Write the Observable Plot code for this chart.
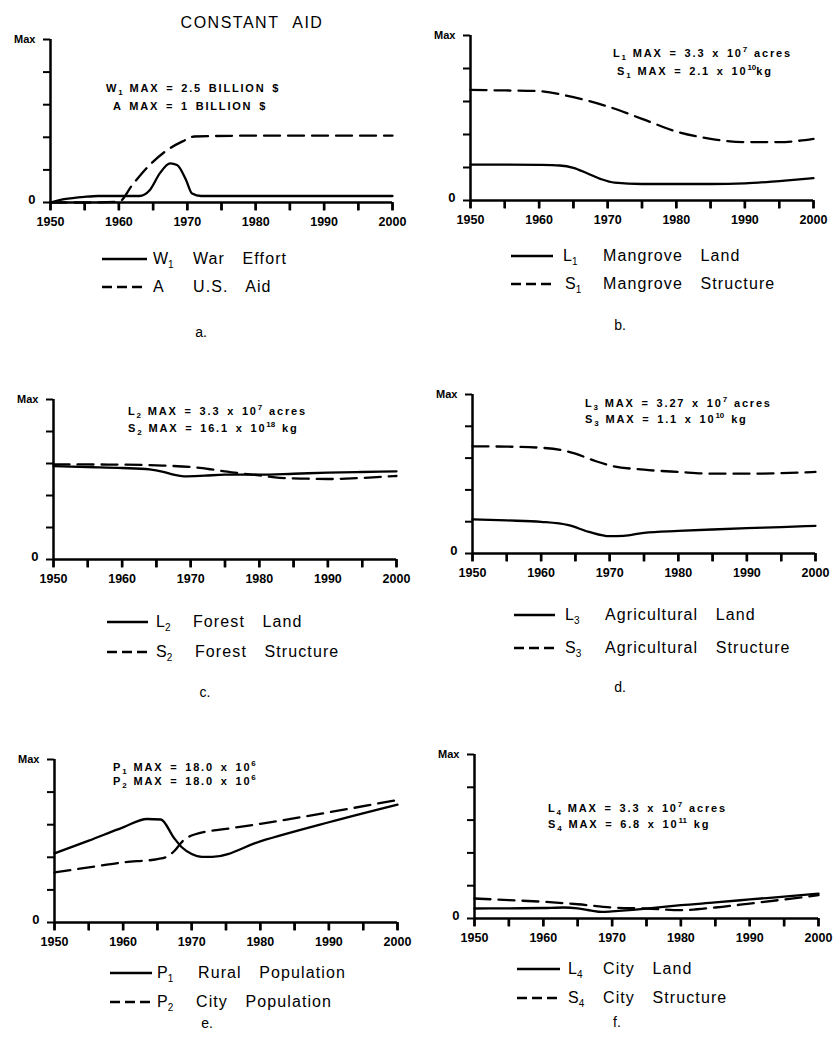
<!DOCTYPE html>
<html>
<head>
<meta charset="utf-8">
<script src="https://cdn.jsdelivr.net/npm/d3@7"></script>
<script src="https://cdn.jsdelivr.net/npm/@observablehq/plot@0.6"></script>
<style>
  html, body { margin: 0; padding: 0; background: #fff; }
  #page { position: relative; width: 836px; height: 1037px; overflow: hidden; font-family: "Liberation Sans", Arial, sans-serif; color: #000; }
  .abs { position: absolute; white-space: nowrap; transform: translateY(-50%); }
  .title { font-size: 16px; letter-spacing: 1.5px; word-spacing: 8px; transform: translate(-50%, -50%); }
  .note { font-size: 11px; font-weight: bold; letter-spacing: 1.8px; word-spacing: 2px; line-height: 1; }
  .note sub { font-size: 8px; vertical-align: -3px; line-height: 0; letter-spacing: 0; }
  .note sup { font-size: 8px; vertical-align: 5px; line-height: 0; letter-spacing: 0; }
  .sym { font-size: 16px; line-height: 1; }
  .sym sub { font-size: 10px; vertical-align: -4px; line-height: 0; }
  .desc { font-size: 16px; letter-spacing: 1.1px; word-spacing: 12px; line-height: 1; }
  .plabel { font-size: 14px; transform: translate(-50%, -50%); }
</style>
</head>
<body>
<div id="page"></div>
<script>
// ---------- data (values as fraction of each variable's MAX) ----------
const xTicks = [1950, 1955, 1960, 1965, 1970, 1975, 1980, 1985, 1990, 1995, 2000];
const xTickLabels = ["1950", "", "1960", "", "1970", "", "1980", "", "1990", "", "2000"];
const yTicks = [0, 0.2, 0.4, 0.6, 0.8, 1];
const yTickLabels = ["0", "", "", "", "", "Max"];

// a. War effort / U.S. aid
const w1Years = [1950, 1952, 1955, 1957, 1960, 1963, 1964.5, 1966, 1967.5, 1968.5, 1969.8, 1970.7, 1972, 1980, 1990, 2000];
const w1Vals  = [0, 0.02, 0.035, 0.04, 0.04, 0.04, 0.075, 0.18, 0.24, 0.23, 0.14, 0.055, 0.04, 0.04, 0.04, 0.04];
const aYears  = [1950, 1955, 1960, 1962, 1964.5, 1967, 1969.3, 1971, 1980, 1990, 2000];
const aVals   = [0, 0, 0.005, 0.11, 0.23, 0.32, 0.375, 0.405, 0.41, 0.41, 0.41];

// b. Mangrove
const l1Years = [1950, 1955, 1960, 1963, 1965, 1967, 1969, 1971, 1975, 1980, 1985, 1990, 1995, 2000];
const l1Vals  = [0.218, 0.218, 0.216, 0.212, 0.198, 0.165, 0.13, 0.108, 0.1, 0.1, 0.1, 0.104, 0.118, 0.135];
const s1Years = [1950, 1955, 1960, 1965, 1970, 1975, 1980, 1985, 1990, 1995, 2000];
const s1Vals  = [0.67, 0.667, 0.663, 0.626, 0.57, 0.495, 0.418, 0.374, 0.354, 0.354, 0.374];

// c. Forest
const l2Years = [1950, 1955, 1960, 1964, 1966, 1967.5, 1969, 1972, 1975, 1980, 1985, 1990, 1995, 2000];
const l2Vals  = [0.584, 0.578, 0.572, 0.563, 0.548, 0.53, 0.52, 0.524, 0.53, 0.53, 0.536, 0.543, 0.547, 0.551];
const s2Years = [1950, 1955, 1960, 1965, 1970, 1973, 1976, 1980, 1983, 1987, 1990, 1995, 2000];
const s2Vals  = [0.595, 0.594, 0.593, 0.588, 0.578, 0.563, 0.545, 0.526, 0.51, 0.505, 0.503, 0.51, 0.522];

// d. Agricultural
const l3Years = [1950, 1955, 1960, 1964, 1967, 1970, 1972, 1975, 1980, 1985, 1990, 1995, 2000];
const l3Vals  = [0.215, 0.208, 0.199, 0.178, 0.136, 0.109, 0.111, 0.13, 0.142, 0.151, 0.159, 0.166, 0.174];
const s3Years = [1950, 1955, 1960, 1963, 1965, 1968, 1970, 1975, 1980, 1985, 1990, 1995, 2000];
const s3Vals  = [0.674, 0.672, 0.665, 0.65, 0.628, 0.58, 0.554, 0.527, 0.513, 0.502, 0.502, 0.505, 0.513];

// e. Population
const p1Years = [1950, 1955, 1960, 1963.5, 1965.5, 1967.4, 1968.6, 1970, 1971.5, 1973, 1980, 1990, 2000];
const p1Vals  = [0.424, 0.502, 0.584, 0.635, 0.632, 0.52, 0.46, 0.42, 0.402, 0.402, 0.498, 0.615, 0.723];
const p2Years = [1950, 1955, 1960, 1965, 1966.2, 1967.5, 1968.7, 1970.4, 1975, 1980, 1990, 2000];
const p2Vals  = [0.307, 0.338, 0.369, 0.389, 0.4, 0.44, 0.5, 0.54, 0.574, 0.605, 0.676, 0.752];

// f. City
const l4Years = [1950, 1955, 1960, 1963, 1965, 1967, 1968.5, 1970, 1973, 1975, 1980, 1985, 1990, 1995, 2000];
const l4Vals  = [0.061, 0.062, 0.064, 0.067, 0.062, 0.048, 0.04, 0.043, 0.052, 0.06, 0.081, 0.098, 0.116, 0.134, 0.152];
const s4Years = [1950, 1955, 1960, 1965, 1970, 1975, 1980, 1985, 1990, 1995, 2000];
const s4Vals  = [0.122, 0.112, 0.102, 0.087, 0.067, 0.061, 0.051, 0.067, 0.091, 0.116, 0.142];

// ---------- layout ----------
const page = document.getElementById("page");

function panel(cfg) {
  const {left, top, x0, x1, yTop, yBot, solid, dashed} = cfg;
  const w = 418, h = yBot - top + 40;
  const tickLen = 8 / (yBot - yTop); // 8px expressed in y units
  const chart = Plot.plot({
    width: w, height: h,
    marginLeft: x0 - left, marginRight: w - (x1 - left),
    marginTop: yTop - top, marginBottom: h - (yBot - top),
    x: {domain: [1950, 2000]},
    y: {domain: [0, 1]},
    style: {fontFamily: "'Liberation Sans', Arial, sans-serif", color: "#000", background: "transparent", overflow: "visible"},
    marks: [
      Plot.axisX({ticks: xTicks, tickSize: 8, tickPadding: 7, strokeWidth: 2.4, fontSize: 12.5, fontWeight: "bold",
        tickFormat: d => xTickLabels[xTicks.indexOf(d)]}),
      Plot.axisY({ticks: yTicks, tickSize: 7, strokeWidth: 2, tickFormat: () => ""}),
      Plot.ruleY([0], {x1: 1950, x2: 2000, strokeWidth: 2.5}),
      Plot.link(xTicks, {x1: d => d, x2: d => d, y1: 0, y2: -tickLen, stroke: "black", strokeWidth: 2.4}),
      Plot.axisY({ticks: [yTicks[5]], tickSize: 0, tickPadding: 15, fontSize: 11, fontWeight: "bold",
        tickFormat: d => yTickLabels[yTicks.indexOf(d)]}),
      Plot.axisY({ticks: [yTicks[0]], tickSize: 0, tickPadding: 15, fontSize: 13, fontWeight: "bold", dy: -3,
        tickFormat: d => yTickLabels[yTicks.indexOf(d)]}),
      Plot.ruleX([1950], {y1: 0, y2: 1, strokeWidth: 2.5}),
      Plot.line(solid[1], {x: solid[0], y: solid[1], curve: "monotone-x", strokeWidth: 2.3}),
      Plot.line(dashed[1], {x: dashed[0], y: dashed[1], curve: "monotone-x", strokeWidth: 2.3, strokeDasharray: "16,8"})
    ]
  });
  chart.style.position = "absolute";
  chart.style.left = left + "px";
  chart.style.top = top + "px";
  page.append(chart);
}

panel({left: 0,   top: 0,   x0: 50,  x1: 392, yTop: 39,  yBot: 202, solid: [w1Years, w1Vals], dashed: [aYears, aVals]});
panel({left: 418, top: 0,   x0: 470, x1: 813, yTop: 35,  yBot: 200, solid: [l1Years, l1Vals], dashed: [s1Years, s1Vals]});
panel({left: 0,   top: 340, x0: 53,  x1: 396, yTop: 399, yBot: 559, solid: [l2Years, l2Vals], dashed: [s2Years, s2Vals]});
panel({left: 418, top: 340, x0: 472, x1: 815, yTop: 394, yBot: 553, solid: [l3Years, l3Vals], dashed: [s3Years, s3Vals]});
panel({left: 0,   top: 680, x0: 54,  x1: 397, yTop: 759, yBot: 922, solid: [p1Years, p1Vals], dashed: [p2Years, p2Vals]});
panel({left: 418, top: 680, x0: 474, x1: 818, yTop: 754, yBot: 918, solid: [l4Years, l4Vals], dashed: [s4Years, s4Vals]});

function addText(cls, html, x, y) {
  const d = document.createElement("div");
  d.className = "abs " + cls;
  d.innerHTML = html;
  d.style.left = x + "px";
  d.style.top = y + "px";
  page.append(d);
}

addText("title", "CONSTANT AID", 252, 23);

// notes
const notes = [
  ["W<sub>1</sub> MAX = 2.5 BILLION $", 106, 88],
  ["A MAX = 1 BILLION $", 113, 106],
  ["L<sub>1</sub> MAX = 3.3 x 10<sup>7</sup> acres", 613, 53],
  ["S<sub>1</sub> MAX = 2.1 x 10<sup>10</sup>kg", 617, 71],
  ["L<sub>2</sub> MAX = 3.3 x 10<sup>7</sup> acres", 128, 411],
  ["S<sub>2</sub> MAX = 16.1 x 10<sup>18</sup> kg", 128, 428],
  ["L<sub>3</sub> MAX = 3.27 x 10<sup>7</sup> acres", 585, 403],
  ["S<sub>3</sub> MAX = 1.1 x 10<sup>10</sup> kg", 585, 419],
  ["P<sub>1</sub> MAX = 18.0 x 10<sup>6</sup>", 113, 767],
  ["P<sub>2</sub> MAX = 18.0 x 10<sup>6</sup>", 113, 781],
  ["L<sub>4</sub> MAX = 3.3 x 10<sup>7</sup> acres", 548, 808],
  ["S<sub>4</sub> MAX = 6.8 x 10<sup>11</sup> kg", 548, 824]
];
notes.forEach(([t, x, y]) => addText("note", t, x, y));

// legends: [lineX1, lineX2, symX, descX, y, dashed, sym, desc]
const legendRows = [
  [102, 147, 153, 193, 259, false, "W<sub>1</sub>", "War Effort"],
  [102, 147, 153, 193, 287, true,  "A", "U.S. Aid"],
  [511, 553, 563, 603, 256, false, "L<sub>1</sub>", "Mangrove Land"],
  [511, 553, 565, 603, 284, true,  "S<sub>1</sub>", "Mangrove Structure"],
  [107, 148, 156, 193, 622, false, "L<sub>2</sub>", "Forest Land"],
  [107, 148, 156, 195, 652, true,  "S<sub>2</sub>", "Forest Structure"],
  [514, 555, 565, 605, 615, false, "L<sub>3</sub>", "Agricultural Land"],
  [514, 555, 565, 605, 648, true,  "S<sub>3</sub>", "Agricultural Structure"],
  [110, 152, 157, 198, 973, false, "P<sub>1</sub>", "Rural Population"],
  [110, 152, 157, 196, 1002, true, "P<sub>2</sub>", "City Population"],
  [517, 560, 568, 603, 969, false, "L<sub>4</sub>", "City Land"],
  [517, 560, 568, 603, 998, true,  "S<sub>4</sub>", "City Structure"]
];
legendRows.forEach(([lx1, lx2, sx, dx, y, dashed, sym, desc]) => {
  const svgNS = "http://www.w3.org/2000/svg";
  const s = document.createElementNS(svgNS, "svg");
  s.setAttribute("width", lx2 - lx1);
  s.setAttribute("height", 6);
  s.style.position = "absolute";
  s.style.left = lx1 + "px";
  s.style.top = (y - 3) + "px";
  const l = document.createElementNS(svgNS, "line");
  l.setAttribute("x1", 0); l.setAttribute("x2", lx2 - lx1);
  l.setAttribute("y1", 3); l.setAttribute("y2", 3);
  l.setAttribute("stroke", "#000");
  l.setAttribute("stroke-width", 2.3);
  if (dashed) l.setAttribute("stroke-dasharray", "10,5");
  s.append(l);
  page.append(s);
  addText("sym", sym, sx, y);
  addText("desc", desc, dx, y);
});

// panel letters
[["a.", 201, 332], ["b.", 620, 325], ["c.", 205, 692], ["d.", 620, 687], ["e.", 207, 1023], ["f.", 617, 1022]]
  .forEach(([t, x, y]) => addText("plabel", t, x, y));
</script>
</body>
</html>
